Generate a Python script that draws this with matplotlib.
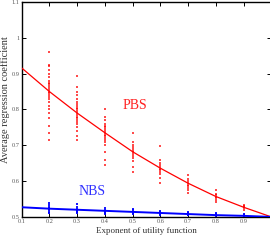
import matplotlib
matplotlib.use("Agg")
import matplotlib.pyplot as plt
import numpy as np

# ---- data ----
exponents = [0.1, 0.2, 0.3, 0.4, 0.5, 0.6, 0.7, 0.8, 0.9, 1.0]
pbs_mean = [0.916, 0.850, 0.790, 0.735, 0.682, 0.636, 0.594, 0.557, 0.527, 0.500]
nbs_mean = [0.527, 0.523, 0.520, 0.517, 0.514, 0.511, 0.508, 0.505, 0.503, 0.500]

# individual regression coefficients (scatter) per exponent
pbs_samples = {
    0.1: [0.70, 0.74, 0.78, 0.82, 0.85, 0.87, 0.89, 0.90, 0.91, 0.92, 0.93, 0.94, 0.95, 0.97, 0.99, 1.01, 1.04, 1.07],
    0.2: [0.715, 0.735, 0.755, 0.775, 0.79, 0.80, 0.81, 0.82, 0.83, 0.835, 0.84, 0.845, 0.85, 0.855, 0.86,
          0.865, 0.87, 0.875, 0.88, 0.89, 0.90, 0.91, 0.92, 0.925, 0.959],
    0.3: [0.715, 0.725, 0.74, 0.75, 0.76, 0.765, 0.77, 0.775, 0.78, 0.785, 0.79, 0.795, 0.80, 0.805, 0.81,
          0.815, 0.82, 0.83, 0.84, 0.85, 0.863, 0.894],
    0.4: [0.645, 0.66, 0.68, 0.70, 0.71, 0.715, 0.72, 0.725, 0.73, 0.735, 0.74, 0.745, 0.75, 0.755, 0.76,
          0.77, 0.78, 0.80],
    0.5: [0.624, 0.64, 0.655, 0.665, 0.67, 0.675, 0.68, 0.685, 0.69, 0.695, 0.70, 0.71, 0.735],
    0.6: [0.596, 0.61, 0.62, 0.625, 0.63, 0.635, 0.64, 0.645, 0.65, 0.66, 0.697],
    0.7: [0.567, 0.575, 0.58, 0.585, 0.59, 0.595, 0.60, 0.605, 0.617],
    0.8: [0.543, 0.548, 0.552, 0.556, 0.56, 0.565, 0.575],
    0.9: [0.520, 0.524, 0.527, 0.530, 0.534],
}
nbs_samples = {
    0.1: [0.515, 0.52, 0.525, 0.53, 0.535, 0.545],
    0.2: [0.511, 0.515, 0.519, 0.522, 0.525, 0.528, 0.532, 0.539],
    0.3: [0.510, 0.514, 0.517, 0.520, 0.523, 0.527, 0.535],
    0.4: [0.509, 0.512, 0.515, 0.517, 0.520, 0.525],
    0.5: [0.507, 0.510, 0.513, 0.515, 0.518, 0.523],
    0.6: [0.505, 0.508, 0.511, 0.514, 0.517],
    0.7: [0.504, 0.506, 0.508, 0.510, 0.513],
    0.8: [0.502, 0.504, 0.506, 0.508, 0.510],
    0.9: [0.500, 0.502, 0.503, 0.505, 0.507],
}
x_ticks = [0.1, 0.2, 0.3, 0.4, 0.5, 0.6, 0.7, 0.8, 0.9]
x_ticklabels = ["0.1", "0.2", "0.3", "0.4", "0.5", "0.6", "0.7", "0.8", "0.9"]
y_ticks = [0.5, 0.6, 0.7, 0.8, 0.9, 1.0, 1.1]
y_ticklabels = ["0.5", "0.6", "0.7", "0.8", "0.9", "1", "1.1"]

plt.rcParams["font.family"] = ["Liberation Serif", "DejaVu Serif"]

fig = plt.figure(figsize=(2.70, 2.44), dpi=100)
ax = fig.add_axes([0.080, 0.111, 0.925, 0.881])

for xv, vals in pbs_samples.items():
    ax.scatter([xv] * len(vals), vals, s=0.8, marker="s", color="#ff0000",
               linewidths=0, alpha=0.7, zorder=2)
for xv, vals in nbs_samples.items():
    ax.scatter([xv] * len(vals), vals, s=1.2, marker="s", color="#0000ff",
               linewidths=0, alpha=0.9, zorder=2)

ax.plot(exponents, pbs_mean, color="#ff0000", lw=0.9, zorder=3)
ax.plot(exponents, nbs_mean, color="#0000ff", lw=1.4, zorder=3)

ax.text(0.508, 0.81, "PBS", color="#ff2020", fontsize=10, ha="center", va="center")
ax.text(0.353, 0.570, "NBS", color="#3030ff", fontsize=10, ha="center", va="center")

ax.set_xlim(0.1, 1.0)
ax.set_ylim(0.5, 1.1)
ax.set_xticks(x_ticks)
ax.set_xticklabels(x_ticklabels)
ax.set_yticks(y_ticks)
ax.set_yticklabels(y_ticklabels)
ax.tick_params(direction="in", top=True, right=True, length=3, width=0.7,
               labelsize=4.5, labelcolor="#555555", pad=1.5)

ax.set_xlabel("Exponent of utility function", fontsize=6.5, color="#333333", labelpad=2)
ax.set_ylabel("Average regression coefficient", fontsize=7.5, color="#333333")
ax.yaxis.set_label_coords(-0.047, 0.544)

for s in ax.spines.values():
    s.set_linewidth(1.0)

fig.savefig("out.png", dpi=100)
